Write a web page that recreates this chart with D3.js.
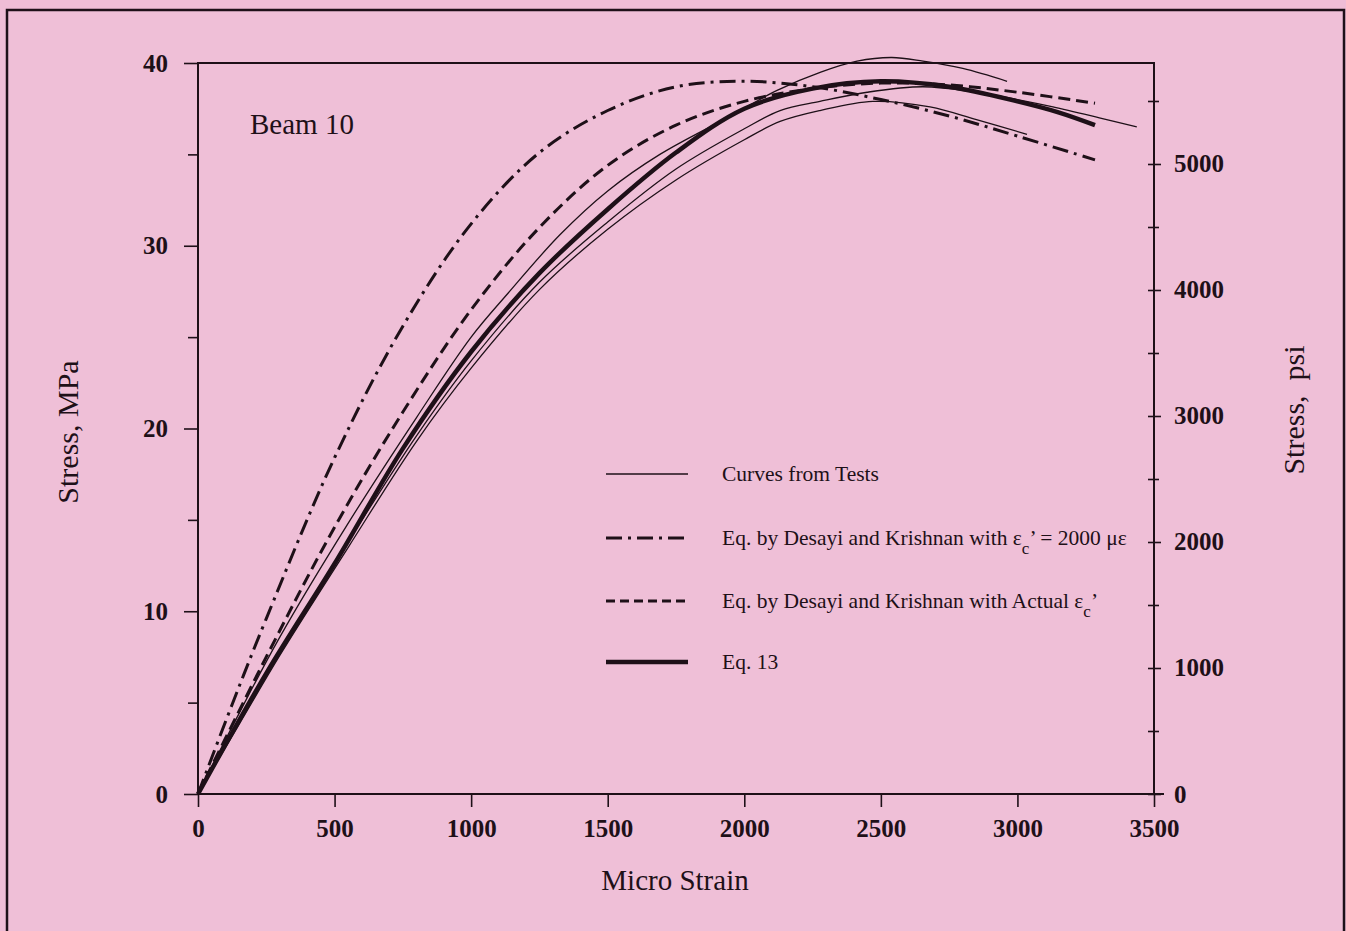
<!DOCTYPE html>
<html>
<head>
<meta charset="utf-8">
<script src="https://d3js.org/d3.v7.min.js"></script>
<style>
  body { margin: 0; background: #efbdd6; }
  svg { display: block; }
  text { font-family: "Liberation Serif", "Times New Roman", serif; fill: #1e1018; }
</style>
</head>
<body>
<svg id="chart"></svg>
<script>
// values: strain in micro strain, stress in MPa
const strainTestA = [0, 150, 300, 545, 800, 1000, 1135, 1325, 1500, 1691, 1937, 2120, 2280, 2413, 2540, 2654, 2800, 2962];
const stressTestA = [0, 4.4, 8.6, 14.7, 20.6, 25.0, 27.4, 30.6, 33.0, 35.0, 37.0, 38.5, 39.5, 40.1, 40.3, 40.1, 39.7, 39.0];

const strainTestB = [0, 150, 300, 550, 800, 1000, 1250, 1500, 1750, 2000, 2131, 2277, 2450, 2654, 2850, 3000, 3130, 3300, 3437];
const stressTestB = [0, 3.9, 7.8, 13.8, 19.6, 23.7, 28.0, 31.3, 34.2, 36.4, 37.4, 37.9, 38.4, 38.7, 38.4, 38.0, 37.6, 37.0, 36.5];

const strainTestC = [0, 150, 300, 550, 800, 1000, 1250, 1500, 1750, 2000, 2131, 2277, 2471, 2680, 2850, 3035];
const stressTestC = [0, 3.8, 7.6, 13.5, 19.3, 23.3, 27.6, 30.9, 33.6, 35.8, 36.8, 37.4, 37.9, 37.6, 36.9, 36.1];

const strainDK2000 = [0, 125, 250, 500, 750, 1000, 1250, 1500, 1750, 2000, 2250, 2500, 2750, 3000, 3284];
const stressDK2000 = [0, 4.9, 9.6, 18.4, 25.6, 31.2, 35.1, 37.4, 38.7, 39.0, 38.7, 38.0, 37.1, 36.0, 34.7];

const strainDKActual = [0, 250, 500, 750, 1000, 1250, 1500, 1750, 2000, 2250, 2500, 2750, 3000, 3284];
const stressDKActual = [0, 7.5, 14.6, 20.9, 26.5, 31.0, 34.4, 36.6, 37.9, 38.6, 38.9, 38.8, 38.4, 37.8];

const strainEq13 = [0, 250, 500, 750, 1000, 1250, 1500, 1750, 2000, 2250, 2500, 2750, 3000, 3150, 3284];
const stressEq13 = [0, 6.6, 12.6, 18.9, 24.2, 28.5, 32.0, 35.1, 37.5, 38.6, 39.0, 38.7, 37.9, 37.3, 36.6];

const xTicks = [0, 500, 1000, 1500, 2000, 2500, 3000, 3500];
const yTicks = [0, 10, 20, 30, 40];
const yMinorTicks = [5, 15, 25, 35];
const psiTicks = [0, 1000, 2000, 3000, 4000, 5000];
const psiMinorTicks = [500, 1500, 2500, 3500, 4500, 5500];
const MPA_TO_PSI = 145.038;

const legendLabels = ["Curves from Tests", "Eq. by Desayi and Krishnan with ", "Eq. by Desayi and Krishnan with Actual ", "Eq. 13"];

var svgWidth = 1346, svgHeight = 931;
var ink = "#1e1018";

var svg = d3.select("#chart")
    .attr("width", svgWidth)
    .attr("height", svgHeight);

// outer frame
svg.append("rect")
    .attr("x", 7).attr("y", 10)
    .attr("width", 1337).attr("height", 940)
    .attr("fill", "#efbfd7")
    .attr("stroke", ink)
    .attr("stroke-width", 2.5);

var x = d3.scaleLinear().domain([0, 3500]).range([198, 1154]);
var y = d3.scaleLinear().domain([0, 40]).range([794, 63]);
var yPsi = d3.scaleLinear().domain([0, 40 * MPA_TO_PSI]).range([794, 63]);

// plot box
svg.append("rect")
    .attr("x", x(0)).attr("y", y(40))
    .attr("width", x(3500) - x(0)).attr("height", y(0) - y(40))
    .attr("fill", "none")
    .attr("stroke", ink)
    .attr("stroke-width", 2);

function styleAxis(g) {
    g.select(".domain").remove();
    g.selectAll("line").attr("stroke", ink).attr("stroke-width", 1.6);
    g.selectAll("text")
        .attr("font-family", "Liberation Serif")
        .attr("font-weight", "bold")
        .attr("font-size", 25)
        .attr("fill", ink);
}

svg.append("g")
    .attr("transform", "translate(0," + y(0) + ")")
    .call(d3.axisBottom(x).tickValues(xTicks).tickSize(13).tickPadding(12).tickFormat(d3.format("d")))
    .call(styleAxis);

svg.append("g")
    .attr("transform", "translate(" + x(0) + ",0)")
    .call(d3.axisLeft(y).tickValues(yTicks).tickSize(14).tickPadding(16))
    .call(styleAxis);

svg.append("g")
    .attr("transform", "translate(" + x(0) + ",0)")
    .call(d3.axisLeft(y).tickValues(yMinorTicks).tickSize(10).tickFormat(""))
    .call(styleAxis);

var right = svg.append("g")
    .attr("transform", "translate(" + x(3500) + ",0)")
    .call(d3.axisRight(yPsi).tickValues(psiTicks).tickSize(7).tickPadding(13).tickFormat(d3.format("d")))
    .call(styleAxis);
right.selectAll(".tick line").attr("x1", -6);

svg.append("g")
    .attr("transform", "translate(" + x(3500) + ",0)")
    .call(d3.axisRight(yPsi).tickValues(psiMinorTicks).tickSize(5).tickFormat(""))
    .call(styleAxis)
    .selectAll(".tick line").attr("x1", -6);

// x axis continues a little past the right axis
svg.append("line")
    .attr("x1", x(3500)).attr("x2", x(3500) + 10)
    .attr("y1", y(0)).attr("y2", y(0))
    .attr("stroke", ink).attr("stroke-width", 2);

// axis titles
svg.append("text")
    .attr("transform", "translate(78,432) rotate(-90)")
    .attr("text-anchor", "middle")
    .attr("font-size", 30)
    .text("Stress, MPa");

svg.append("text")
    .attr("transform", "translate(1304,410) rotate(-90)")
    .attr("text-anchor", "middle")
    .attr("font-size", 30)
    .style("white-space", "pre")
    .text("Stress,  psi");

svg.append("text")
    .attr("x", 675).attr("y", 890)
    .attr("text-anchor", "middle")
    .attr("font-size", 29)
    .text("Micro Strain");

svg.append("text")
    .attr("x", 250).attr("y", 134)
    .attr("font-size", 29)
    .text("Beam 10");

// curves
function toPoints(strain, stress) {
    return strain.map(function(s, i) { return {strain: s, stress: stress[i]}; });
}

var line = d3.line()
    .x(function(d) { return x(d.strain); })
    .y(function(d) { return y(d.stress); })
    .curve(d3.curveCatmullRom.alpha(0.5));

var series = [
    {pts: toPoints(strainTestA, stressTestA), width: 1.3, dash: null},
    {pts: toPoints(strainTestB, stressTestB), width: 1.3, dash: null},
    {pts: toPoints(strainTestC, stressTestC), width: 1.3, dash: null},
    {pts: toPoints(strainDK2000, stressDK2000), width: 3, dash: "16,6,3,6"},
    {pts: toPoints(strainDKActual, stressDKActual), width: 3, dash: "12,6"},
    {pts: toPoints(strainEq13, stressEq13), width: 4.5, dash: null}
];

series.forEach(function(s) {
    svg.append("path")
        .datum(s.pts)
        .attr("fill", "none")
        .attr("stroke", ink)
        .attr("stroke-width", s.width)
        .attr("stroke-dasharray", s.dash)
        .attr("stroke-linejoin", "round")
        .attr("d", line);
});

// legend
var legendY = [474, 538, 601, 662];
var legendStyle = [
    {width: 1.3, dash: null},
    {width: 3, dash: "16,6,3,6"},
    {width: 3, dash: "9,5"},
    {width: 4.5, dash: null}
];

legendLabels.forEach(function(label, i) {
    svg.append("line")
        .attr("x1", 606).attr("x2", 688)
        .attr("y1", legendY[i]).attr("y2", legendY[i])
        .attr("stroke", ink)
        .attr("stroke-width", legendStyle[i].width)
        .attr("stroke-dasharray", legendStyle[i].dash);

    var t = svg.append("text")
        .attr("x", 722).attr("y", legendY[i] + 7)
        .attr("font-size", 21.5)
        .text(label);

    if (i === 1 || i === 2) {
        t.append("tspan").text("ε");
        t.append("tspan").attr("font-size", 17).attr("dy", 9).text("c");
        t.append("tspan").attr("dy", -9).text(i === 1 ? "’ = 2000 με" : "’");
    }
});
</script>
</body>
</html>
